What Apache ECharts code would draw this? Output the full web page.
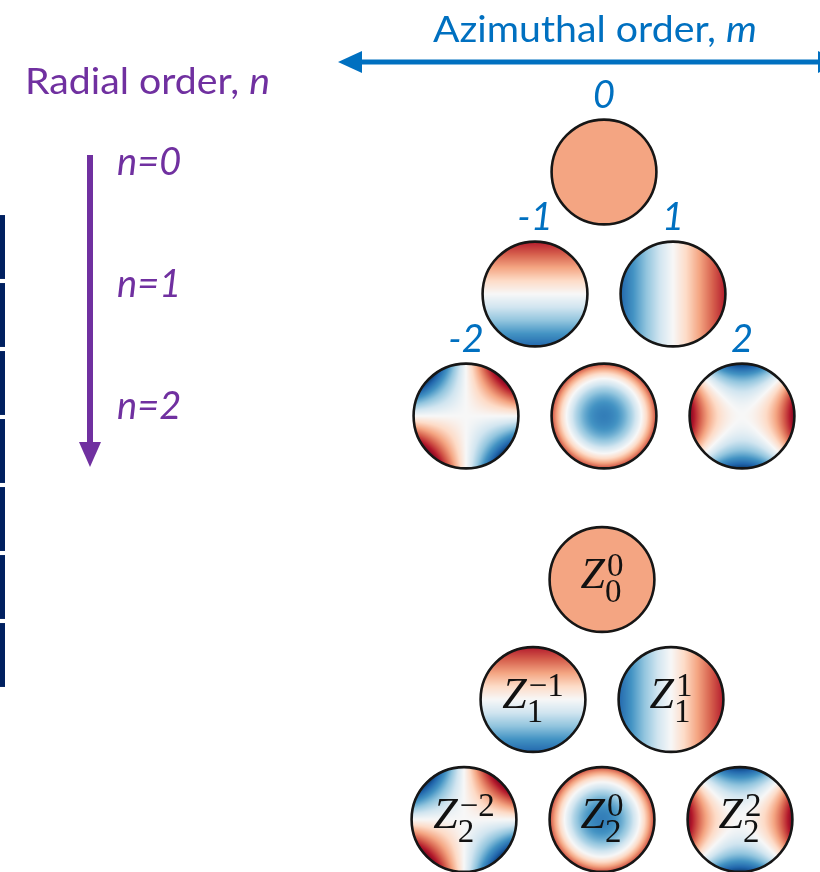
<!DOCTYPE html>
<html>
<head>
<meta charset="utf-8">
<script src="https://cdn.jsdelivr.net/npm/echarts@6/dist/echarts.min.js"></script>
<style>
  html, body { margin: 0; padding: 0; background: #ffffff; }
  #chart { width: 820px; height: 872px; }
</style>
</head>
<body>
<div id="chart"></div>
<script>
// Zernike modes, listed by radial order n and azimuthal order m
const radialOrders = [0, 1, 1, 2, 2, 2];
const azimuthalOrders = [0, -1, 1, -2, 0, 2];
// radial orders written beside the vertical arrow
const radialTicks = [0, 1, 2];
// symmetric colour limit shared by every disk
const colorLimit = 2.5;
// strips of the table edge at the far left
const tableRows = [1, 1, 1, 1, 1, 1, 1];

const BLUE = '#0070C0';
const PURPLE = '#7030A0';
const NAVY = '#002060';
const SANS = 'Lato';
const SERIF = 'Liberation Serif';

// RdBu_r colour map
const RDBU_R = ['#053061', '#2166ac', '#4393c3', '#92c5de', '#d1e5f0', '#f7f7f7',
                '#fddbc7', '#f4a582', '#d6604d', '#b2182b', '#67001f'];
const cmapRGB = RDBU_R.map(h => [parseInt(h.slice(1, 3), 16), parseInt(h.slice(3, 5), 16), parseInt(h.slice(5, 7), 16)]);
function cmap(t) {
  t = Math.max(0, Math.min(1, t));
  const p = t * (cmapRGB.length - 1);
  const i = Math.min(Math.floor(p), cmapRGB.length - 2);
  const f = p - i;
  const a = cmapRGB[i], b = cmapRGB[i + 1];
  return [a[0] + (b[0] - a[0]) * f, a[1] + (b[1] - a[1]) * f, a[2] + (b[2] - a[2]) * f];
}

// Noll-normalised Zernike polynomial
function fact(k) { let f = 1; for (let i = 2; i <= k; i++) f *= i; return f; }
function radialPoly(n, m, rho) {
  m = Math.abs(m);
  let s = 0;
  for (let k = 0; k <= (n - m) / 2; k++) {
    s += (k % 2 ? -1 : 1) * fact(n - k) /
         (fact(k) * fact((n + m) / 2 - k) * fact((n - m) / 2 - k)) * Math.pow(rho, n - 2 * k);
  }
  return s;
}
function zernike(n, m, rho, theta) {
  const norm = Math.sqrt(2 * (n + 1) / (m === 0 ? 2 : 1));
  const r = radialPoly(n, m, rho);
  return m >= 0 ? norm * r * Math.cos(m * theta) : norm * r * Math.sin(-m * theta);
}

// raster of one mode over the unit disk, cached per size
const diskCache = {};
function diskImage(n, m, R) {
  const key = n + '_' + m + '_' + R;
  if (diskCache[key]) return diskCache[key];
  const S = 2 * R;
  const cv = document.createElement('canvas');
  cv.width = S; cv.height = S;
  const ctx = cv.getContext('2d');
  const img = ctx.createImageData(S, S);
  for (let j = 0; j < S; j++) {
    for (let i = 0; i < S; i++) {
      const dx = i + 0.5 - R, dy = j + 0.5 - R;
      const d = Math.sqrt(dx * dx + dy * dy);
      const rho = d / R;
      const alpha = Math.max(0, Math.min(1, R - d + 0.5));
      const idx = (j * S + i) * 4;
      if (alpha <= 0) { img.data[idx + 3] = 0; continue; }
      const v = zernike(n, m, Math.min(rho, 1), Math.atan2(-dy, dx));
      const c = cmap(0.5 + v / (2 * colorLimit));
      img.data[idx] = c[0]; img.data[idx + 1] = c[1]; img.data[idx + 2] = c[2];
      img.data[idx + 3] = Math.round(alpha * 255);
    }
  }
  ctx.putImageData(img, 0, 0);
  diskCache[key] = cv;
  return cv;
}

// text measuring
const measureCtx = document.createElement('canvas').getContext('2d');
function textWidth(str, font) { measureCtx.font = font; return measureCtx.measureText(str).width; }

const modeData = radialOrders.map((n, i) => [azimuthalOrders[i], n]);

const Z_SIZE = 44, SCRIPT_SIZE = 33;

// withSymbol: Z label inside the disk; otherwise the m value above the outer disks
function makeRenderer(withSymbol) {
  return function (params, api) {
    const m = api.value(0), n = api.value(1);
    const c = api.coord([m, n]);
    const unit = api.size([1, 0])[0];
    const R = Math.round(unit * 0.765);
    const children = [
      { type: 'image', style: { image: diskImage(n, m, R), x: c[0] - R, y: c[1] - R, width: 2 * R, height: 2 * R } },
      { type: 'circle', shape: { cx: c[0], cy: c[1], r: R - 0.6 }, style: { fill: 'none', stroke: '#161616', lineWidth: 2.6 } }
    ];
    if (withSymbol) {
      const sup = m < 0 ? '\u2212' + Math.abs(m) : String(m);
      const sub = String(n);
      const wZ = textWidth('Z', 'italic ' + Z_SIZE + 'px "' + SERIF + '"');
      const sFont = SCRIPT_SIZE + 'px "' + SERIF + '"';
      const wS = Math.max(textWidth(sup, sFont), textWidth(sub, sFont));
      const x0 = c[0] - (wZ + 2 + wS) / 2;
      const base = { fontFamily: SERIF, fill: '#111', align: 'left', verticalAlign: 'middle' };
      children.push(
        { type: 'text', style: Object.assign({}, base, { text: 'Z', x: x0, y: c[1] - 3, fontSize: Z_SIZE, fontStyle: 'italic' }) },
        { type: 'text', style: Object.assign({}, base, { text: sup, x: x0 + wZ + 2, y: c[1] - 12, fontSize: SCRIPT_SIZE }) },
        { type: 'text', style: Object.assign({}, base, { text: sub, x: x0 + wZ, y: c[1] + 14, fontSize: SCRIPT_SIZE }) }
      );
    } else if (Math.abs(m) === n) {
      children.push({
        type: 'text',
        style: {
          text: String(m), x: c[0], y: c[1] - 76,
          fontFamily: SANS, fontStyle: 'italic', fontSize: 38, fill: BLUE, align: 'center', verticalAlign: 'middle'
        }
      });
    }
    return { type: 'group', children: children };
  };
}

// header texts, compressed horizontally to a Calibri-like width
const titleSize = 37;
const aziW = textWidth('Azimuthal order, ', titleSize + 'px ' + SANS) + textWidth('m', 'italic ' + titleSize + 'px ' + SANS);
const radW = textWidth('Radial order, ', titleSize + 'px ' + SANS) + textWidth('n', 'italic ' + titleSize + 'px ' + SANS);

function headerRich(color) {
  return {
    a: { fontFamily: SANS, fontSize: titleSize, fill: color },
    b: { fontFamily: SANS, fontSize: titleSize, fontStyle: 'italic', fill: color }
  };
}

const option = {
  animation: false,
  backgroundColor: '#ffffff',
  grid: [
    { left: 397, top: 50, width: 414, height: 488, outerBoundsMode: 'none' },
    { left: 395, top: 459.5, width: 414, height: 480, outerBoundsMode: 'none' },
    { left: 0, top: 213, width: 5, height: 476, outerBoundsMode: 'none' }
  ],
  xAxis: [
    { gridIndex: 0, type: 'value', min: -3, max: 3, show: false },
    { gridIndex: 1, type: 'value', min: -3, max: 3, show: false },
    { gridIndex: 2, type: 'value', min: 0, max: 1, show: false }
  ],
  yAxis: [
    {
      gridIndex: 0, type: 'value', min: -1, max: 3, interval: 1, inverse: true,
      axisLine: { show: false }, axisTick: { show: false }, splitLine: { show: false },
      axisLabel: {
        show: true, margin: 280, align: 'left', verticalAlign: 'bottom', lineHeight: 18,
        formatter: v => (radialTicks.indexOf(v) >= 0 ? 'n=' + v : ''),
        color: PURPLE, fontFamily: SANS, fontStyle: 'italic', fontSize: 38
      }
    },
    { gridIndex: 1, type: 'value', min: -1, max: 3, inverse: true, show: false },
    { gridIndex: 2, type: 'category', data: tableRows.map((_, i) => i), inverse: true, show: false }
  ],
  series: [
    {
      type: 'custom', xAxisIndex: 0, yAxisIndex: 0, data: modeData, silent: true, clip: false,
      renderItem: makeRenderer(false)
    },
    {
      type: 'custom', xAxisIndex: 1, yAxisIndex: 1, data: modeData, silent: true, clip: false,
      renderItem: makeRenderer(true)
    },
    {
      type: 'bar', xAxisIndex: 2, yAxisIndex: 2, data: tableRows, silent: true,
      barCategoryGap: '6%', itemStyle: { color: NAVY }
    }
  ],
  graphic: [
    {
      type: 'text', x: 433, y: 30, scaleX: 324 / aziW, silent: true,
      style: { text: '{a|Azimuthal order, }{b|m}', rich: headerRich(BLUE), align: 'left', verticalAlign: 'middle' }
    },
    {
      type: 'text', x: 25, y: 82, scaleX: 245 / radW, silent: true,
      style: { text: '{a|Radial order, }{b|n}', rich: headerRich(PURPLE), align: 'left', verticalAlign: 'middle' }
    },
    // azimuthal double arrow (right head runs past the edge)
    { type: 'line', silent: true, shape: { x1: 360, y1: 62, x2: 822, y2: 62 }, style: { stroke: BLUE, lineWidth: 5 } },
    { type: 'polygon', silent: true, shape: { points: [[338, 62], [362, 51], [362, 73]] }, style: { fill: BLUE } },
    { type: 'polygon', silent: true, shape: { points: [[842, 62], [818, 51], [818, 73]] }, style: { fill: BLUE } },
    // radial arrow
    { type: 'line', silent: true, shape: { x1: 90, y1: 155, x2: 90, y2: 445 }, style: { stroke: PURPLE, lineWidth: 6 } },
    { type: 'polygon', silent: true, shape: { points: [[79, 442], [101, 442], [90, 467]] }, style: { fill: PURPLE } }
  ]
};

const chart = echarts.init(document.getElementById('chart'), null, { renderer: 'canvas' });
chart.setOption(option);
</script>
</body>
</html>
